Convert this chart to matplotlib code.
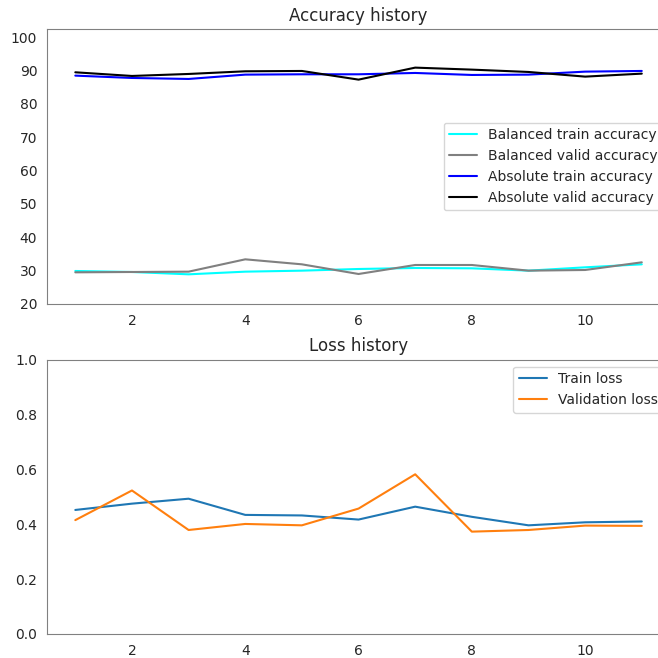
"""Accuracy and loss history for a training run."""

import matplotlib
matplotlib.use('Agg')
import matplotlib.pyplot as plt
import seaborn as sns

epochs = [1, 2, 3, 4, 5, 6, 7, 8, 9, 10, 11]

balanced_train_acc = [29.9, 29.6, 28.9, 29.7, 30.0, 30.5, 30.8, 30.7, 30.0, 31.0, 31.9]
balanced_valid_acc = [29.5, 29.6, 29.7, 33.4, 31.9, 29.0, 31.7, 31.7, 30.0, 30.2, 32.5]
absolute_train_acc = [88.5, 87.8, 87.5, 88.8, 88.9, 88.9, 89.3, 88.7, 88.8, 89.7, 89.9]
absolute_valid_acc = [89.5, 88.4, 89.0, 89.8, 89.9, 87.3, 90.9, 90.3, 89.6, 88.2, 89.1]

train_loss = [0.452, 0.475, 0.493, 0.434, 0.432, 0.417, 0.464, 0.427, 0.396, 0.407, 0.410]
valid_loss = [0.415, 0.523, 0.379, 0.401, 0.396, 0.457, 0.582, 0.373, 0.379, 0.395, 0.394]

sns.set_style('white')
plt.rcParams['axes.edgecolor'] = '0.5'
plt.rcParams['font.family'] = ['DejaVu Sans']

fig = plt.figure(figsize=(6.58, 6.58), dpi=100)

# the axes run past the right edge of the figure, as in the original crop
ax1 = fig.add_axes([0.0714, 0.538, 0.947, 0.418])
ax1.plot(epochs, balanced_train_acc, color='cyan', label='Balanced train accuracy')
ax1.plot(epochs, balanced_valid_acc, color='gray', label='Balanced valid accuracy')
ax1.plot(epochs, absolute_train_acc, color='blue', label='Absolute train accuracy')
ax1.plot(epochs, absolute_valid_acc, color='black', label='Absolute valid accuracy')
ax1.set_ylim(20, 102.5)
ax1.set_yticks(range(20, 101, 10))
ax1.set_xticks([2, 4, 6, 8, 10])
ax1.set_title('Accuracy history', fontsize=12)
ax1.legend(loc='center right', fontsize=10)
ax1.spines['right'].set_visible(False)

ax2 = fig.add_axes([0.0714, 0.0365, 0.947, 0.417])
ax2.plot(epochs, train_loss, color='tab:blue', label='Train loss')
ax2.plot(epochs, valid_loss, color='tab:orange', label='Validation loss')
ax2.set_ylim(0, 1)
ax2.set_xticks([2, 4, 6, 8, 10])
ax2.set_title('Loss history', fontsize=12)
ax2.legend(loc='upper right', fontsize=10)
ax2.spines['right'].set_visible(False)

fig.savefig('out.png', dpi=100)
